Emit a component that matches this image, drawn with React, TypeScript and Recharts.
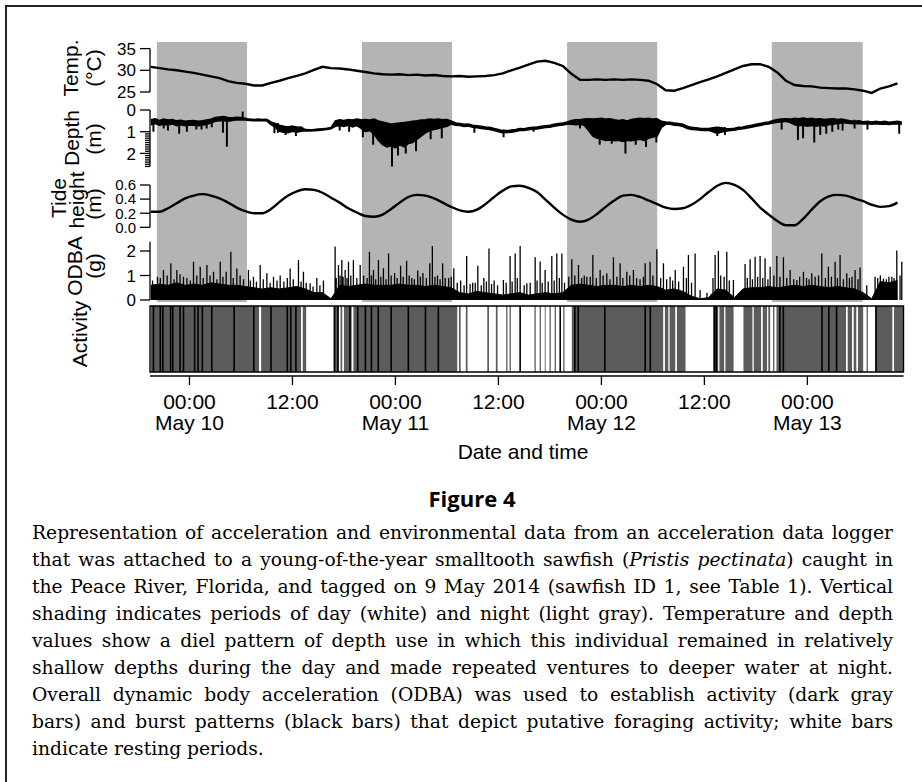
import React from 'react'
import {
  ComposedChart,
  Line,
  Area,
  XAxis,
  YAxis,
  ReferenceArea,
  ReferenceLine
} from 'recharts'

// time is in hours from 00:00 May 10
const X_MIN = -4.6
const X_MAX = 83.2

const timeTicks = [0, 12, 24, 36, 48, 60, 72]
const timeLabels = ['00:00', '12:00', '00:00', '12:00', '00:00', '12:00', '00:00']
const dateLabels = ['May 10', '', 'May 11', '', 'May 12', '', 'May 13']

const nightStart = [-3.8, 20.1, 44.0, 67.85]
const nightEnd = [6.7, 30.6, 54.5, 78.45]

// hourly temperature readings, first at -4.5 h
const tempStart = -4.5
const tempValues = [
  30.8, 30.5, 30.2, 30.0, 29.7, 29.4, 29.0, 28.6, 28.2, 27.5,
  27.1, 26.9, 26.5, 26.5, 27.1, 27.6, 28.2, 28.7, 29.3, 30.1,
  30.8, 30.5, 30.4, 30.2, 29.9, 29.6, 29.3, 29.1, 29.0, 29.1,
  28.9, 29.0, 28.8, 28.9, 28.7, 28.6, 28.7, 28.5, 28.6, 28.7,
  28.9, 29.3, 30.0, 30.6, 31.3, 32.0, 32.2, 31.7, 31.0, 29.2,
  27.8, 27.8, 27.9, 27.8, 27.9, 27.8, 27.9, 27.8, 27.6, 26.8,
  25.4, 25.3, 25.9, 26.6, 27.3, 27.9, 28.6, 29.4, 30.2, 31.0,
  31.4, 31.4, 30.8, 29.5, 27.6, 26.6, 26.4, 26.3, 26.0, 25.9,
  25.8, 25.8, 25.6, 25.3, 24.8, 25.8, 26.3, 27.0
]

// half-hourly depth band (m): shallow edge and deep edge, first at -4.5 h
const depthStart = -4.5
const depthTop = [
  0.45, 0.40, 0.48, 0.42, 0.46, 0.44, 0.50, 0.47, 0.52, 0.50,
  0.48, 0.52, 0.50, 0.46, 0.42, 0.35, 0.32, 0.30, 0.34, 0.36,
  0.33, 0.35, 0.38, 0.42, 0.44, 0.42, 0.44, 0.43, 0.55, 0.62,
  0.70, 0.75, 0.78, 0.74, 0.80, 0.78, 0.90, 0.91, 0.90, 0.88,
  0.86, 0.84, 0.80, 0.50, 0.45, 0.48, 0.44, 0.46, 0.42, 0.45,
  0.44, 0.46, 0.42, 0.50, 0.55, 0.60, 0.65, 0.62, 0.60, 0.58,
  0.55, 0.52, 0.50, 0.46, 0.45, 0.42, 0.44, 0.42, 0.45, 0.44,
  0.50, 0.60, 0.62, 0.66, 0.64, 0.70, 0.72, 0.75, 0.78, 0.80,
  0.85, 0.90, 0.95, 0.95, 0.92, 0.90, 0.85, 0.86, 0.82, 0.80,
  0.78, 0.75, 0.72, 0.70, 0.66, 0.62, 0.60, 0.55, 0.48, 0.45,
  0.45, 0.42, 0.40, 0.42, 0.40, 0.38, 0.42, 0.40, 0.45, 0.48,
  0.45, 0.50, 0.44, 0.40, 0.38, 0.40, 0.38, 0.42, 0.40, 0.52,
  0.55, 0.56, 0.60, 0.62, 0.66, 0.75, 0.80, 0.82, 0.84, 0.85,
  0.85, 0.82, 0.80, 0.82, 0.85, 0.86, 0.84, 0.80, 0.78, 0.74,
  0.70, 0.66, 0.62, 0.58, 0.55, 0.48, 0.44, 0.42, 0.40, 0.42,
  0.38, 0.40, 0.37, 0.40, 0.38, 0.42, 0.40, 0.44, 0.42, 0.40,
  0.44, 0.42, 0.46, 0.50, 0.52, 0.50, 0.54, 0.52, 0.55, 0.52,
  0.55, 0.52, 0.56, 0.54, 0.52, 0.55
]
const depthDeep = [
  0.68, 0.62, 0.70, 0.66, 0.70, 0.64, 0.72, 0.68, 0.72, 0.70,
  0.70, 0.72, 0.70, 0.66, 0.60, 0.52, 0.50, 0.50, 0.52, 0.48,
  0.45, 0.46, 0.46, 0.48, 0.50, 0.48, 0.50, 0.50, 0.68, 0.80,
  0.98, 1.02, 1.05, 0.98, 1.02, 0.98, 0.96, 0.97, 0.96, 0.94,
  0.92, 0.90, 0.86, 0.75, 0.72, 0.76, 0.70, 0.78, 0.72, 0.85,
  1.00, 0.95, 1.10, 1.40, 1.60, 1.70, 1.65, 1.75, 1.60, 1.70,
  1.55, 1.50, 1.35, 1.20, 1.05, 0.95, 0.90, 0.85, 0.80, 0.75,
  0.65, 0.70, 0.72, 0.76, 0.74, 0.80, 0.82, 0.85, 0.88, 0.90,
  0.95, 1.00, 1.05, 1.04, 1.02, 0.99, 0.94, 0.95, 0.91, 0.89,
  0.87, 0.84, 0.81, 0.79, 0.75, 0.71, 0.69, 0.66, 0.66, 0.68,
  0.66, 0.70, 0.95, 1.20, 1.30, 1.35, 1.40, 1.38, 1.42, 1.40,
  1.45, 1.40, 1.42, 1.38, 1.35, 1.40, 1.30, 1.25, 1.20, 0.80,
  0.66, 0.66, 0.70, 0.72, 0.76, 0.85, 0.90, 0.91, 0.93, 0.94,
  0.94, 1.00, 1.08, 1.02, 0.98, 0.95, 0.93, 0.89, 0.87, 0.83,
  0.79, 0.75, 0.71, 0.67, 0.64, 0.60, 0.56, 0.55, 0.52, 0.58,
  0.68, 0.72, 0.70, 0.75, 0.72, 0.75, 0.70, 0.74, 0.68, 0.66,
  0.62, 0.60, 0.60, 0.62, 0.63, 0.62, 0.65, 0.63, 0.66, 0.63,
  0.66, 0.64, 0.67, 0.65, 0.64, 0.66
]
// single dives that reach past the band
const diveTimes = [
  -4.2, -3.0, -2.5, -1.2, -0.3, 0.8, 1.4, 2.0, 2.6, 3.9,
  4.36, 6.2, 9.9, 10.3, 11.2, 12.4, 17.5, 18.6, 20.2, 21.4,
  22.0, 23.6, 24.3, 25.2, 26.4, 28.1, 29.4, 33.2, 36.6, 40.1,
  45.5, 47.8, 49.2, 50.8, 52.0, 53.2, 54.4, 61.5, 62.4, 69.0,
  70.9, 71.5, 72.8, 73.5, 74.2, 74.9, 75.6, 76.1, 77.5, 79.0,
  82.7
]
const diveFrom = [
  0.5, 0.5, 0.5, 0.5, 0.5, 0.5, 0.5, 0.5, 0.4, 0.4,
  0.4, 0.4, 0.6, 0.6, 0.75, 0.75, 0.45, 0.45, 0.45, 0.45,
  0.5, 0.8, 0.8, 0.8, 0.7, 0.5, 0.5, 0.7, 0.9, 0.8,
  0.45, 0.5, 0.5, 0.6, 0.5, 0.5, 0.5, 0.8, 0.8, 0.4,
  0.42, 0.42, 0.42, 0.42, 0.42, 0.42, 0.42, 0.42, 0.45, 0.52,
  0.52
]
const diveTo = [
  1.0, 0.85, 0.95, 1.1, 1.0, 0.9, 0.9, 0.85, 0.8, 1.05,
  1.69, 0.07, 1.07, 1.05, 1.15, 1.2, 0.95, 1.0, 1.25, 1.6,
  1.4, 2.6, 2.1, 2.0, 1.9, 1.35, 1.3, 1.05, 1.25, 1.0,
  0.85, 1.6, 1.55, 2.0, 1.6, 1.7, 1.5, 1.2, 1.15, 0.9,
  1.38, 1.3, 1.5, 1.15, 1.1, 1.0, 0.9, 0.95, 0.85, 0.9,
  1.1
]

// hourly tide height (m), first at -4.5 h
const tideStart = -4.5
const tideValues = [
  0.22, 0.22, 0.27, 0.34, 0.41, 0.45, 0.47, 0.45, 0.41, 0.35,
  0.28, 0.23, 0.20, 0.20, 0.26, 0.36, 0.45, 0.51, 0.54, 0.53,
  0.49, 0.42, 0.35, 0.27, 0.21, 0.16, 0.15, 0.18, 0.26, 0.35,
  0.43, 0.46, 0.45, 0.41, 0.35, 0.29, 0.24, 0.22, 0.25, 0.33,
  0.43, 0.52, 0.58, 0.59, 0.56, 0.50, 0.39, 0.28, 0.18, 0.11,
  0.08, 0.11, 0.19, 0.29, 0.38, 0.45, 0.46, 0.43, 0.38, 0.33,
  0.28, 0.26, 0.27, 0.32, 0.40, 0.50, 0.59, 0.63, 0.60, 0.53,
  0.41, 0.28, 0.18, 0.09, 0.03, 0.03, 0.12, 0.25, 0.37, 0.44,
  0.46, 0.45, 0.41, 0.37, 0.32, 0.29, 0.30, 0.35
]

// ODBA (g): hourly level of the dense trace, plus tall and small bursts
const odbaStart = -4.5
const odbaBase = [
  0.60, 0.65, 0.60, 0.70, 0.60, 0.65, 0.60, 0.70, 0.65, 0.60,
  0.60, 0.55, 0.50, 0.45, 0.50, 0.45, 0.50, 0.55, 0.45, 0.30,
  0.30, 0.05, 0.60, 0.55, 0.60, 0.65, 0.60, 0.60, 0.60, 0.65,
  0.60, 0.60, 0.55, 0.60, 0.55, 0.50, 0.30, 0.25, 0.35, 0.30,
  0.25, 0.20, 0.25, 0.30, 0.20, 0.25, 0.30, 0.25, 0.30, 0.60,
  0.65, 0.60, 0.55, 0.60, 0.60, 0.55, 0.60, 0.55, 0.60, 0.55,
  0.40, 0.45, 0.35, 0.15, 0.05, 0.10, 0.45, 0.40, 0.10, 0.45,
  0.50, 0.50, 0.55, 0.50, 0.55, 0.60, 0.55, 0.60, 0.55, 0.50,
  0.55, 0.50, 0.45, 0.30, 0.05, 0.75, 0.70, 0.80
]
const spikeTimes = [
  -3.73, -3.03, -2.17, -1.47, -0.7, 0.47, 1.25, 2.03, 2.8, 3.58,
  4.28, 4.82, 5.52, 6.87, 7.46, 8.24, 9.02, 9.79, 10.57, 11.73,
  12.7, 13.28, 14.06, 14.84, 15.61, 16.97, 17.36, 17.75, 18.14, 18.53,
  19.1, 19.89, 20.97, 21.44, 22.02, 22.6, 23.2, 23.9, 24.6, 25.3,
  25.9, 26.6, 27.2, 28.0, 28.3, 28.9, 29.5, 30.2, 30.8, 31.6,
  32.3, 33.0, 33.6, 34.3, 34.9, 35.5, 36.58, 37.36, 37.95, 38.53,
  39.31, 40.28, 40.86, 41.44, 42.22, 42.8, 43.39, 44.55, 45.33, 46.3,
  47.0, 47.85, 48.63, 49.4, 50.18, 50.96, 51.73, 53.1, 53.67, 54.46,
  55.23, 56.0, 56.6, 57.56, 58.14, 58.92, 59.5, 61.25, 61.63, 62.61,
  63.38, 64.74, 65.33, 65.91, 66.49, 67.07, 67.66, 68.44, 69.21, 69.99,
  70.77, 71.54, 72.51, 73.68, 74.45, 75.23, 75.81, 76.59, 77.56, 78.14,
  78.92, 79.89, 80.86, 81.84, 82.42, 83.0
]
const spikeHeights = [
  0.95, 1.22, 1.5, 1.22, 0.95, 1.56, 1.36, 1.43, 1.15, 1.56,
  1.15, 1.97, 1.29, 1.22, 0.95, 1.43, 1.09, 0.95, 1.0, 1.29,
  1.63, 1.15, 0.68, 0.9, 0.8, 2.18, 1.43, 1.63, 1.22, 1.56,
  1.63, 1.43, 1.97, 1.22, 1.63, 1.3, 1.9, 1.1, 1.4, 1.6,
  0.9, 1.2, 1.1, 1.5, 2.2, 1.0, 1.5, 0.9, 1.3, 0.8,
  1.8, 0.7, 1.4, 0.9, 2.1, 0.8, 0.82, 1.8, 1.9, 2.2,
  0.68, 1.74, 1.57, 1.22, 1.8, 1.9, 1.9, 1.66, 1.43, 0.95,
  1.84, 1.22, 1.09, 1.74, 1.5, 1.15, 1.22, 1.5, 1.56, 2.07,
  1.5, 0.95, 1.22, 1.36, 1.84, 1.9, 0.41, 1.84, 2.0, 1.97,
  0.82, 1.47, 1.66, 1.77, 1.8, 1.7, 1.36, 1.8, 1.74, 1.22,
  0.82, 1.15, 1.09, 1.9, 1.36, 1.56, 1.84, 1.09, 1.22, 1.33,
  0.6, 0.95, 0.88, 0.95, 2.02, 1.56
]
const smallSpikeTimes = [
  -4.3, -3.4, -2.6, -1.8, -1.1, -0.3, 0.1, 0.85, 1.6, 2.4,
  3.2, 3.9, 5.1, 5.9, 6.3, 7.1, 7.8, 8.6, 9.4, 10.2,
  11.0, 11.4, 12.1, 13.0, 13.6, 14.4, 15.2, 17.1, 17.55, 17.9,
  18.35, 18.8, 19.5, 20.3, 20.7, 21.2, 21.7, 22.3, 22.9, 23.5,
  24.2, 24.9, 25.6, 26.2, 26.9, 27.6, 28.6, 29.2, 29.8, 30.5,
  31.2, 32.0, 32.7, 33.3, 34.0, 34.6, 35.2, 35.9, 36.9, 37.6,
  38.2, 39.0, 39.7, 40.5, 41.1, 41.8, 42.5, 43.1, 43.7, 44.2,
  44.9, 45.7, 46.0, 46.7, 47.4, 48.2, 49.0, 49.8, 50.5, 51.3,
  52.1, 52.5, 52.9, 54.0, 54.9, 55.6, 56.3, 57.0, 57.9, 58.5,
  60.3, 60.8, 61.0, 61.9, 62.3, 62.9, 64.2, 65.0, 65.6, 66.2,
  66.8, 67.4, 68.1, 68.8, 69.6, 70.4, 71.1, 71.9, 72.2, 72.9,
  73.3, 74.1, 74.8, 75.5, 76.2, 76.9, 77.2, 77.9, 80.2, 80.5,
  81.2, 81.5, 82.1, 82.8
]
const smallSpikeHeights = [
  0.8, 0.9, 1.0, 0.85, 1.05, 0.9, 0.8, 1.0, 0.9, 1.0,
  0.85, 0.95, 0.9, 1.0, 0.85, 0.8, 0.75, 0.85, 0.7, 0.8,
  0.75, 0.9, 0.85, 0.75, 0.7, 0.55, 0.6, 0.9, 1.0, 0.95,
  0.9, 1.0, 0.9, 1.0, 0.9, 1.0, 0.85, 0.95, 0.85, 1.0,
  0.9, 0.95, 1.0, 0.85, 0.95, 0.9, 0.95, 0.85, 0.9, 0.95,
  0.7, 0.6, 0.65, 0.7, 0.6, 0.75, 0.65, 0.6, 0.7, 0.75,
  0.9, 0.6, 0.7, 0.8, 0.7, 0.75, 0.8, 0.9, 0.7, 0.95,
  1.0, 0.9, 1.0, 0.95, 0.9, 1.0, 0.85, 0.95, 0.9, 1.0,
  0.9, 0.85, 0.95, 1.0, 0.9, 0.85, 0.8, 0.75, 0.9, 0.7,
  0.3, 0.25, 0.9, 1.0, 0.95, 0.8, 0.3, 0.9, 0.85, 0.95,
  0.9, 0.85, 1.0, 0.95, 0.9, 0.85, 0.95, 0.9, 0.85, 0.95,
  1.0, 0.9, 0.95, 0.9, 0.85, 0.9, 0.95, 0.85, 0.9, 1.0,
  0.85, 0.95, 0.9, 1.0
]

// activity states: dark gray = active, black = burst, white = resting
const activeStart = [
  -4.5, 8.35, 13.2, 16.8, 17.6, 18.0, 19.1, 31.4, 32.2, 34.7,
  35.7, 36.9, 37.3, 40.2, 40.8, 41.4, 41.95, 42.55, 43.55, 44.55,
  55.4, 55.95, 56.8, 61.0, 61.75, 62.45, 64.55, 65.75, 66.8, 67.45,
  68.0, 68.4, 76.7, 77.4, 77.9, 78.9, 79.9, 82.1
]
const activeEnd = [
  8.1, 13.0, 13.6, 17.4, 17.8, 18.9, 31.2, 31.6, 32.4, 34.9,
  35.9, 37.05, 37.45, 40.35, 40.95, 41.5, 42.1, 42.7, 43.7, 55.2,
  55.8, 56.6, 57.8, 61.6, 62.3, 63.4, 65.6, 66.6, 67.3, 67.66,
  68.15, 76.5, 77.2, 77.7, 78.5, 79.05, 81.9, 83.2
]
const burstTimes = [
  -4.2, -3.4, -3.1, -2.2, -1.95, -1.1, -0.7, 0.6, 1.0, 1.5,
  2.6, 5.2, 7.5, 9.5, 11.4, 11.8, 12.4, 16.9, 17.3, 18.7,
  19.6, 20.5, 21.2, 22.0, 23.5, 25.5, 27.5, 29.0, 38.53, 43.2,
  44.9, 45.3, 48.4, 53.1, 53.7, 61.2, 61.4, 68.8, 69.2, 73.7,
  74.5, 75.4, 80.0
]

const tempTicks = [25, 30, 35]
const depthTicks = [0, 1, 2]
const depthMinorTicks = [1.1, 1.2, 1.3, 1.4, 1.5, 1.6, 1.7, 1.8, 1.9, 2.1, 2.2, 2.3, 2.4, 2.5, 2.6]
const tideTicks = [0, 0.2, 0.4, 0.6]
const odbaTicks = [0, 1, 2]

const captionLines = [
  'Representation of acceleration and environmental data from an acceleration data logger',
  'that was attached to a young-of-the-year smalltooth sawfish (|Pristis pectinata|) caught in',
  'the Peace River, Florida, and tagged on 9 May 2014 (sawfish ID 1, see Table 1). Vertical',
  'shading indicates periods of day (white) and night (light gray). Temperature and depth',
  'values show a diel pattern of depth use in which this individual remained in relatively',
  'shallow depths during the day and made repeated ventures to deeper water at night.',
  'Overall dynamic body acceleration (ODBA) was used to establish activity (dark gray',
  'bars) and burst patterns (black bars) that depict putative foraging activity; white bars',
  'indicate resting periods.'
]

const NIGHT = '#b4b4b4'
const ACTIVE = '#5c5c5c'
const SANS = '"Liberation Sans", Arial, Helvetica, sans-serif'

const CHART_W = 922
const AXIS_W = 60
const MARGIN_L = 90
const MARGIN_R = 18.5
const PAD = 14

const series = (start: number, step: number, values: number[]) =>
  values.map((v, i) => ({ t: start + i * step, v }))

const tempData = series(tempStart, 1, tempValues)
const depthBand = depthTop.map((v, i) => ({ t: depthStart + i * 0.5, r: [v, depthDeep[i]] }))
const diveData = diveTimes.flatMap((t, i) => [
  { t, v: diveFrom[i] },
  { t, v: diveTo[i] },
  { t, v: null }
])
const tideData = series(tideStart, 1, tideValues)
const odbaBaseData = series(odbaStart, 1, odbaBase)
const spikeData = [
  ...spikeTimes.map((t, i) => [t, spikeHeights[i]]),
  ...smallSpikeTimes.map((t, i) => [t, smallSpikeHeights[i]])
]
  .sort((a, b) => a[0] - b[0])
  .flatMap(([t, h]) => [
    { t, v: 0 },
    { t, v: h },
    { t, v: null }
  ])

const YTick = (props: any) => {
  const { x, y, payload, majors, fmt, size } = props
  const ax = x + 14
  const major = majors.includes(payload.value)
  return (
    <g>
      <line x1={ax - (major ? 10 : 5)} x2={ax} y1={y} y2={y} stroke="#000" strokeWidth={1.3} />
      {major && (
        <text x={ax - 14} y={y} dy="0.36em" textAnchor="end" fontSize={size} fontFamily={SANS} fill="#000">
          {fmt(payload.value)}
        </text>
      )}
    </g>
  )
}

const XTick = (props: any) => {
  const { x, y, payload } = props
  const i = timeTicks.indexOf(payload.value)
  return (
    <g>
      <text x={x} y={y + 20} textAnchor="middle" fontSize={21} fontFamily={SANS} fill="#000">
        {timeLabels[i]}
      </text>
      {dateLabels[i] && (
        <text x={x} y={y + 41} textAnchor="middle" fontSize={21} fontFamily={SANS} fill="#000">
          {dateLabels[i]}
        </text>
      )}
    </g>
  )
}

interface PanelProps {
  top: number
  bottom: number
  domain: [number, number]
  reversed?: boolean
  ticks: number[]
  minor?: number[]
  axisFrom: number
  axisTo: number
  fmt: (v: number) => string
  tickSize?: number
  children: React.ReactNode
}

function Panel({ top, bottom, domain, reversed, ticks, minor = [], axisFrom, axisTo, fmt, tickSize = 17, children }: PanelProps) {
  return (
    <div style={{ position: 'absolute', left: 0, top: top - PAD }}>
      <ComposedChart
        width={CHART_W}
        height={bottom - top + 2 * PAD}
        margin={{ top: PAD, bottom: PAD, left: MARGIN_L, right: MARGIN_R }}
      >
        <XAxis type="number" dataKey="t" domain={[X_MIN, X_MAX]} allowDataOverflow hide />
        <YAxis
          type="number"
          width={AXIS_W}
          domain={domain}
          reversed={reversed}
          allowDataOverflow
          ticks={[...ticks, ...minor]}
          interval={0}
          axisLine={false}
          tickLine={false}
          tickSize={10}
          tickMargin={4}
          tick={(p: any) => <YTick {...p} majors={ticks} fmt={fmt} size={tickSize} />}
        />
        {nightStart.map((s, i) => (
          <ReferenceArea
            key={'n' + i}
            x1={s}
            x2={nightEnd[i]}
            fill={NIGHT}
            fillOpacity={1}
            stroke="none"
            ifOverflow="hidden"
            zIndex={-10}
          />
        ))}
        <ReferenceLine
          segment={[{ x: X_MIN, y: axisFrom }, { x: X_MIN, y: axisTo }]}
          stroke="#000"
          strokeWidth={1.3}
          ifOverflow="visible"
        />
        {children}
      </ComposedChart>
    </div>
  )
}

const Title = ({ x, y, text, size = 21 }: { x: number; y: number; text: string; size?: number }) => (
  <div
    style={{
      position: 'absolute',
      left: x,
      top: y,
      transform: 'translate(-50%, -50%) rotate(-90deg)',
      fontFamily: SANS,
      fontSize: size,
      lineHeight: 1,
      whiteSpace: 'nowrap',
      color: '#000'
    }}
  >
    {text}
  </div>
)

const CaptionLine = ({ text, last }: { text: string; last: boolean }) => {
  const parts = text.split('|')
  return (
    <div style={{ textAlign: last ? 'left' : 'justify', textAlignLast: last ? 'left' : 'justify' }}>
      {parts.map((p, i) => (i % 2 === 1 ? <i key={i}>{p}</i> : <span key={i}>{p}</span>))}
    </div>
  )
}

export default function App() {
  return (
    <div style={{ position: 'relative', width: 922, height: 782, overflow: 'hidden', background: '#fff' }}>
      <style>{'body{margin:0;overflow:hidden}'}</style>
      <div
        style={{
          position: 'absolute',
          left: 5,
          top: 5,
          width: 1000,
          height: 1000,
          border: '2px solid #222'
        }}
      />

      <Panel top={41.7} bottom={100} domain={[23.09, 36.52]} ticks={tempTicks} axisFrom={25} axisTo={35} fmt={(v) => String(v)}>
        <Line data={tempData} dataKey="v" type="linear" stroke="#000" strokeWidth={2.4} dot={false} isAnimationActive={false} />
      </Panel>

      <Panel
        top={100}
        bottom={172}
        domain={[-0.461, 2.857]}
        reversed
        ticks={depthTicks}
        minor={depthMinorTicks}
        axisFrom={0}
        axisTo={2.6}
        fmt={(v) => String(v)}
      >
        <Area
          data={depthBand}
          dataKey="r"
          type="linear"
          stroke="#000"
          strokeWidth={1.5}
          fill="#000"
          fillOpacity={1}
          isAnimationActive={false}
        />
        <Line
          data={diveData}
          dataKey="v"
          type="linear"
          stroke="#000"
          strokeWidth={2}
          dot={false}
          connectNulls={false}
          isAnimationActive={false}
        />
      </Panel>

      <Panel
        top={172}
        bottom={236}
        domain={[-0.123, 0.784]}
        ticks={tideTicks}
        axisFrom={0}
        axisTo={0.6}
        fmt={(v) => v.toFixed(1)}
        tickSize={15}
      >
        <Line data={tideData} dataKey="v" type="monotone" stroke="#000" strokeWidth={2.4} dot={false} isAnimationActive={false} />
      </Panel>

      <Panel top={236} bottom={302} domain={[-0.082, 2.612]} ticks={odbaTicks} axisFrom={0} axisTo={2.38} fmt={(v) => String(v)}>
        <Area
          data={odbaBaseData}
          dataKey="v"
          type="linear"
          baseValue={0}
          stroke="#000"
          strokeWidth={1}
          fill="#000"
          fillOpacity={1}
          isAnimationActive={false}
        />
        <Line
          data={spikeData}
          dataKey="v"
          type="linear"
          stroke="#000"
          strokeWidth={1.3}
          dot={false}
          connectNulls={false}
          isAnimationActive={false}
        />
      </Panel>

      <div style={{ position: 'absolute', left: 0, top: 296 }}>
        <ComposedChart width={CHART_W} height={10 + 70 + 64} margin={{ top: 10, bottom: 0, left: MARGIN_L, right: MARGIN_R }}>
          <XAxis
            type="number"
            dataKey="t"
            domain={[X_MIN, X_MAX]}
            allowDataOverflow
            ticks={timeTicks}
            interval={0}
            height={64}
            tickSize={9}
            tickMargin={4}
            axisLine={{ stroke: '#000', strokeWidth: 1.3 }}
            tickLine={{ stroke: '#000', strokeWidth: 1.3 }}
            tick={XTick}
          />
          <YAxis type="number" width={AXIS_W} domain={[-0.06, 1]} allowDataOverflow tick={false} axisLine={false} tickLine={false} />
          {activeStart.map((s, i) => (
            <ReferenceArea
              key={'a' + i}
              x1={s}
              x2={activeEnd[i]}
              y1={0}
              y2={1}
              fill={ACTIVE}
              fillOpacity={1}
              stroke="none"
              ifOverflow="hidden"
            />
          ))}
          {burstTimes.map((t, i) => (
            <ReferenceLine
              key={'b' + i}
              segment={[{ x: t, y: 0 }, { x: t, y: 1 }]}
              stroke="#000"
              strokeWidth={1.6}
            />
          ))}
          <ReferenceArea x1={X_MIN} x2={X_MAX} y1={0} y2={1} fill="none" stroke="#000" strokeWidth={1.4} ifOverflow="visible" />
        </ComposedChart>
      </div>

      <Title x={70} y={68} text="Temp." />
      <Title x={93} y={68} text="(°C)" />
      <Title x={71} y={138} text="Depth" />
      <Title x={93} y={139} text="(m)" />
      <Title x={58} y={198} text="Tide" />
      <Title x={76} y={200} text="height" />
      <Title x={93} y={204} text="(m)" />
      <Title x={74} y={266} text="ODBA" />
      <Title x={93} y={266} text="(g)" />
      <Title x={79} y={334} text="Activity" />

      <div
        style={{
          position: 'absolute',
          left: 523,
          top: 452,
          transform: 'translate(-50%, -50%)',
          fontFamily: SANS,
          fontSize: 21,
          whiteSpace: 'nowrap'
        }}
      >
        Date and time
      </div>

      <div
        style={{
          position: 'absolute',
          left: 472,
          top: 498,
          transform: 'translate(-50%, -50%)',
          fontFamily: '"Open Sans", "Liberation Sans", sans-serif',
          fontWeight: 700,
          fontSize: 22,
          whiteSpace: 'nowrap'
        }}
      >
        Figure 4
      </div>

      <div
        style={{
          position: 'absolute',
          left: 32,
          top: 519,
          width: 861,
          fontFamily: '"DejaVu Serif", serif',
          fontSize: 18.7,
          lineHeight: '27px',
          color: '#000'
        }}
      >
        {captionLines.map((l, i) => (
          <CaptionLine key={i} text={l} last={i === captionLines.length - 1} />
        ))}
      </div>
    </div>
  )
}
